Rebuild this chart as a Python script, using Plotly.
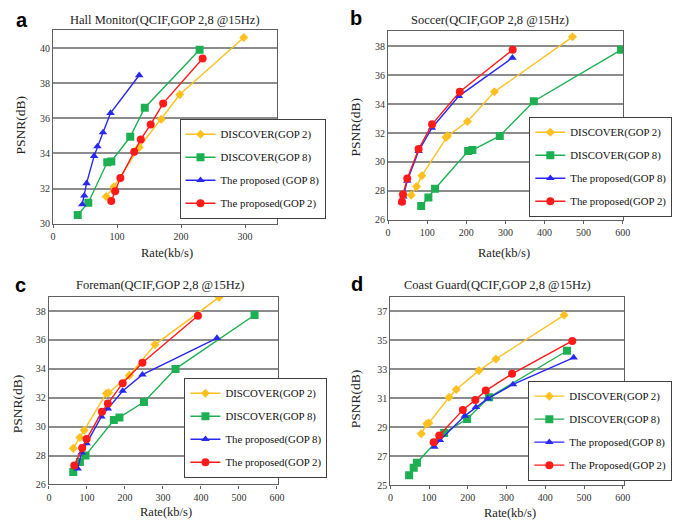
import plotly.graph_objects as go

W, H = 685, 523

# ---------------- data ----------------
series_names = ["DISCOVER(GOP 2)", "DISCOVER(GOP 8)", "The proposed(GOP 8)", "The proposed(GOP 2)"]
names_a = ["DISCOVER(GOP 2)", "DISCOVER(GOP 8)", "The proposed (GOP 8)", "The proposed(GOP 2)"]
names_d = ["DISCOVER(GOP 2)", "DISCOVER(GOP 8)", "The proposed(GOP 8)", "The Proposed(GOP 2)"]

titles = ["Hall Monitor(QCIF,GOP 2,8 @15Hz)", "Soccer(QCIF,GOP 2,8 @15Hz)",
          "Foreman(QCIF,GOP 2,8 @15Hz)", "Coast Guard(QCIF,GOP 2,8 @15Hz)"]
panel_letters = ["a", "b", "c", "d"]

# Panel a - Hall Monitor
a_d2_x = [83, 95, 134.5, 169, 198, 298]
a_d2_y = [31.55, 32.1, 34.35, 35.95, 37.35, 40.6]
a_d8_x = [38.5, 55, 84.7, 91, 120.6, 143.3, 229]
a_d8_y = [30.5, 31.2, 33.5, 33.55, 34.95, 36.6, 39.9]
a_p8_x = [45.6, 48.7, 52.3, 64.1, 69.3, 78, 89.8, 134.6]
a_p8_y = [31.1, 31.6, 32.3, 33.85, 34.4, 35.2, 36.3, 38.45]
a_p2_x = [90.9, 97, 105.2, 126.8, 137.1, 152.5, 172, 233.7]
a_p2_y = [31.3, 31.85, 32.6, 34.1, 34.8, 35.65, 36.85, 39.4]

# Panel b - Soccer
b_d2_x = [59, 72.8, 86.3, 148, 152.2, 203, 272, 471.7]
b_d2_y = [27.7, 28.3, 29.05, 31.7, 31.8, 32.8, 34.85, 38.65]
b_d8_x = [84.6, 103, 120, 204.7, 215.6, 285.7, 372.8, 596]
b_d8_y = [26.95, 27.55, 28.15, 30.75, 30.82, 31.8, 34.2, 37.75]
b_p8_x = [35, 39, 49, 78, 112, 181, 318]
b_p8_y = [27.2, 27.6, 28.7, 30.75, 32.35, 34.55, 37.2]
b_p2_x = [35.5, 38, 49, 78, 112.5, 183.4, 318.7]
b_p2_y = [27.25, 27.75, 28.85, 30.9, 32.6, 34.85, 37.75]

# Panel c - Foreman
c_d2_x = [64, 81.4, 92.7, 151, 157, 211.6, 279, 447.5]
c_d2_y = [28.5, 29.25, 29.75, 32.3, 32.35, 33.55, 35.68, 38.95]
c_d8_x = [64, 81.4, 96.2, 170.7, 185.5, 250, 333, 541]
c_d8_y = [26.87, 27.55, 28.0, 30.46, 30.64, 31.71, 34.0, 37.73]
c_p8_x = [75.5, 86, 99, 138, 155, 194, 246, 442]
c_p8_y = [27.1, 28.2, 28.85, 30.7, 31.25, 32.47, 33.6, 36.13]
c_p2_x = [66.7, 87.5, 99, 139.5, 155, 194, 246, 392]
c_p2_y = [27.32, 28.53, 29.14, 31.03, 31.6, 33.01, 34.43, 37.68]

# Panel d - Coast Guard
d_d2_x = [79.7, 94, 99, 151.5, 170, 228.4, 272.4, 448.4]
d_d2_y = [28.55, 29.23, 29.28, 31.06, 31.6, 32.9, 33.7, 36.73]
d_d8_x = [48.3, 60.2, 68.5, 138.8, 198, 254.8, 456]
d_d8_y = [25.68, 26.2, 26.55, 28.6, 29.56, 31.06, 34.27]
d_p8_x = [113.5, 127.9, 192.1, 220.8, 251.3, 316.5, 473]
d_p8_y = [27.64, 28.1, 29.78, 30.38, 30.97, 31.95, 33.8]
d_p2_x = [111.7, 126.1, 187, 219.2, 246.2, 314, 469.5]
d_p2_y = [27.96, 28.42, 30.19, 30.87, 31.52, 32.68, 34.95]

x_ranges = [[0, 350], [0, 602], [0, 602], [0, 602]]
y_ranges = [[30, 41], [26, 39.05], [26, 39], [25, 38]]
y_ticks = [list(range(30, 41, 2)), list(range(26, 39, 2)), list(range(26, 39, 2)), list(range(25, 38, 2))]
x_ticks = [[0, 100, 200, 300], [0, 100, 200, 300, 400, 500, 600],
           [0, 100, 200, 300, 400, 500, 600], [0, 100, 200, 300, 400, 500, 600]]

panels = [
    [(a_d2_x, a_d2_y), (a_d8_x, a_d8_y), (a_p8_x, a_p8_y), (a_p2_x, a_p2_y)],
    [(b_d2_x, b_d2_y), (b_d8_x, b_d8_y), (b_p8_x, b_p8_y), (b_p2_x, b_p2_y)],
    [(c_d2_x, c_d2_y), (c_d8_x, c_d8_y), (c_p8_x, c_p8_y), (c_p2_x, c_p2_y)],
    [(d_d2_x, d_d2_y), (d_d8_x, d_d8_y), (d_p8_x, d_p8_y), (d_p2_x, d_p2_y)],
]
panel_names = [names_a, series_names, series_names, names_d]

# ---------------- styling ----------------
colors = ["#FFC020", "#1DB052", "#2828F0", "#FF1A1A"]
symbols = ["diamond", "square", "triangle-up", "circle"]
msizes = [7, 8, 7.5, 8]
SERIF = "Liberation Serif"
SANS = "Liberation Sans"

# plot areas in pixels: (left, right, top, bottom)
boxes = [(42.7, 270, 22.7, 218.3), (382.7, 621.5, 23.3, 214.3),
         (38.5, 270.7, 292, 482), (385, 621.7, 292, 482.7)]
legend_pos = [(171, 112), (526, 110), (176, 374), (525, 377)]
title_pos = [(156, 12), (486, 12), (151, 280), (494, 280)]
letter_pos = [(11, 12), (350, 10), (10, 280), (351, 279)]
xlabel_pos = [(158, 248), (500, 248), (157, 510), (506, 511)]
ylabel_pos = [(10, 118), (350, 120), (7, 400), (350, 395)]

fig = go.Figure()
layout = {}
annotations = []


def ann(text, x, y, font, angle=0):
    return dict(text=text, x=x / W, y=1 - y / H, xref="paper", yref="paper",
                xanchor="center", yanchor="middle", showarrow=False,
                textangle=angle, font=font)


for i in range(4):
    sfx = "" if i == 0 else str(i + 1)
    xa, ya = "x" + sfx, "y" + sfx
    lg = "legend" + sfx
    for j in range(4):
        xs, ys = panels[i][j]
        fig.add_trace(go.Scatter(
            x=xs, y=ys, mode="lines+markers", name=panel_names[i][j],
            xaxis=xa, yaxis=ya, legend=lg, legendgroup=f"g{i}{j}",
            line=dict(color=colors[j], width=1.4),
            marker=dict(symbol=symbols[j], size=msizes[j], color=colors[j]),
        ))
    l, r, t, b = boxes[i]
    layout["xaxis" + sfx] = dict(
        domain=[l / W, r / W], range=x_ranges[i], anchor=ya,
        tickvals=x_ticks[i], showgrid=False, zeroline=False,
        showline=True, linecolor="#606060", linewidth=1.2, mirror=True,
        ticks="outside", ticklen=3, tickcolor="#606060",
        tickfont=dict(family=SERIF, size=10, color="#333333"), fixedrange=True,
    )
    layout["yaxis" + sfx] = dict(
        domain=[1 - b / H, 1 - t / H], range=y_ranges[i], anchor=xa,
        tickvals=y_ticks[i], showgrid=True, gridcolor="#8C8C8C", gridwidth=1.6,
        zeroline=False, showline=True, linecolor="#606060", linewidth=1.2, mirror=True,
        ticks="", tickfont=dict(family=SERIF, size=10, color="#333333"), fixedrange=True,
    )
    lx, ly = legend_pos[i]
    layout[lg] = dict(
        x=lx / W, y=1 - ly / H, xanchor="left", yanchor="top",
        bgcolor="white", bordercolor="#404040", borderwidth=1,
        font=dict(family=SERIF, size=10.8, color="#111111"),
        tracegroupgap=4, itemwidth=30,
    )
    tx, ty = title_pos[i]
    annotations.append(ann(titles[i], tx, ty, dict(family=SERIF, size=12.5, color="#222222")))
    px, py = letter_pos[i]
    annotations.append(ann("<b>" + panel_letters[i] + "</b>", px, py,
                           dict(family=SANS, size=20, color="black")))
    qx, qy = xlabel_pos[i]
    annotations.append(ann("Rate(kb/s)", qx, qy, dict(family=SERIF, size=12.5, color="#222222")))
    rx, ry = ylabel_pos[i]
    annotations.append(ann("PSNR(dB)", rx, ry, dict(family=SERIF, size=13.5, color="#222222"), angle=-90))

fig.update_layout(
    width=W, height=H, margin=dict(l=0, r=0, t=0, b=0),
    paper_bgcolor="white", plot_bgcolor="white",
    font=dict(family=SERIF),
    annotations=annotations, **layout,
)
fig.write_html("out.html", config={"displayModeBar": False})
